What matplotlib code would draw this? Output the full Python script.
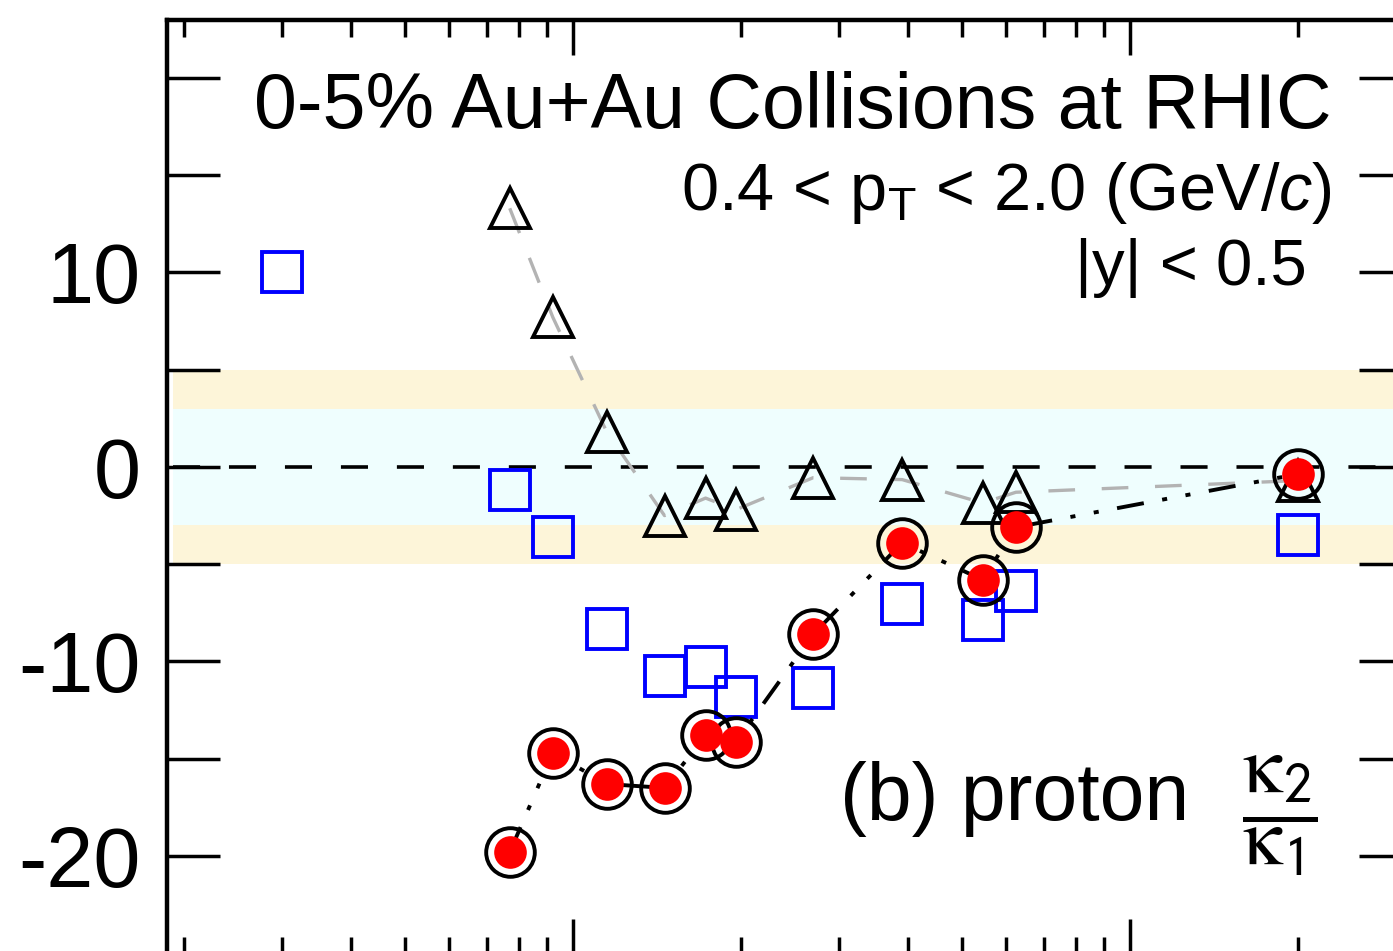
import matplotlib
matplotlib.use("Agg")
import matplotlib.pyplot as plt
from matplotlib.ticker import FixedLocator, FixedFormatter, LogLocator, NullFormatter

plt.rcParams['font.family'] = ['Liberation Sans', 'DejaVu Sans']
plt.rcParams['mathtext.fontset'] = 'custom'
plt.rcParams['mathtext.rm'] = 'Liberation Sans'
plt.rcParams['mathtext.it'] = 'Liberation Sans:italic'

# collision energies (GeV)
energy = [7.7, 9.2, 11.5, 14.6, 17.3, 19.6, 27, 39, 54.4, 62.4, 200]
# red circles (data)
red = [-19.8, -14.7, -16.3, -16.5, -13.8, -14.15, -8.6, -3.9, -5.8, -3.1, -0.37]
# open triangles
tri = [13.3, 7.7, 1.8, -2.5, -1.6, -2.2, -0.55, -0.65, -1.85, -1.3, -0.7]
# open squares (one extra point at 3 GeV)
sq_energy = [3.0, 7.7, 9.2, 11.5, 14.6, 17.3, 19.6, 27, 39, 54.4, 62.4, 200]
sq = [10.0, -1.2, -3.6, -8.35, -10.75, -10.3, -11.85, -11.35, -7.05, -7.85, -6.4, -3.5]

ytick_vals = [-20, -15, -10, -5, 0, 5, 10, 15, 20]
ytick_text = ['-20', '', '-10', '', '0', '', '10', '', '']

W, H = 1393, 951
fig = plt.figure(figsize=(W / 100, H / 100), dpi=100)
ax = fig.add_axes([167 / W, (H - 954) / H, (1412 - 167) / W, (954 - 20) / H])

ax.set_xscale('log')
ax.set_xlim(1.867, 320.9)
ax.set_ylim(-25.04, 22.98)

# bands
ax.axhspan(-5, 5, xmin=0.005, color='#fdf5d9', lw=0, zorder=0)
ax.axhspan(-3, 3, xmin=0.005, color='#effefe', lw=0, zorder=1)
ax.axhline(0, xmin=0.005, color='black', lw=2.6, ls=(0, (7.5, 8)), zorder=2)

# triangles with gray dashed line
ax.plot(energy, tri, color='#b3b3b3', lw=2.4, ls=(0, (8, 8)), zorder=3)
ax.plot(energy, tri, ls='none', marker='^', ms=29.5, mfc='none', mec='black', mew=2.8, zorder=4)

# squares
ax.plot(sq_energy, sq, ls='none', marker='s', ms=29, mfc='none', mec='blue', mew=2.8, zorder=5)

# data points
ax.plot(energy, red, color='black', lw=2.8, ls=(0, (7, 4.8, 1.3, 4.8, 1.3, 4.8)), zorder=6)
ax.plot(energy, red, ls='none', marker='o', ms=35, mfc='none', mec='black', mew=2.8, zorder=7)
ax.plot(energy, red, ls='none', marker='o', ms=23.5, mfc='red', mec='none', zorder=8)

# axes styling
for s in ax.spines.values():
    s.set_linewidth(3.2)
ax.xaxis.set_major_locator(FixedLocator([10, 100]))
ax.xaxis.set_minor_locator(LogLocator(base=10, subs=range(2, 10)))
ax.xaxis.set_major_formatter(NullFormatter())
ax.xaxis.set_minor_formatter(NullFormatter())
ax.tick_params(axis='x', which='major', direction='in', length=25, width=2.5,
               top=True, bottom=True, labelbottom=False)
ax.tick_params(axis='x', which='minor', direction='in', length=12.5, width=2.5,
               top=True, bottom=True)
ax.yaxis.set_major_locator(FixedLocator(ytick_vals))
ax.yaxis.set_major_formatter(FixedFormatter(ytick_text))
ax.tick_params(axis='y', which='major', direction='in', length=38, width=2.5,
               left=True, right=True, labelsize=61, pad=19)

# texts
def px(x, y):
    return x / W, 1 - y / H

fig.text(*px(1332, 128), '0-5% Au+Au Collisions at RHIC', fontsize=55.5,
         ha='right', va='baseline')
fig.text(*px(1332, 210), r'0.4 < $\mathrm{p}_\mathrm{T}$ < 2.0 (GeV/$\mathit{c}$)',
         fontsize=48, ha='right', va='baseline')
fig.text(*px(1307, 285), '|y| < 0.5', fontsize=47, ha='right', va='baseline')
fig.text(*px(840, 820), '(b) proton', fontsize=58, ha='left', va='baseline')

# kappa2 / kappa1
fig.text(*px(1280, 816), r'$\dfrac{\mathrm{\kappa}_\mathsf{2}}{\mathrm{\kappa}_\mathsf{1}}$',
         fontsize=58, math_fontfamily='stix', ha='center', va='center')

fig.savefig('out.png', dpi=100)
